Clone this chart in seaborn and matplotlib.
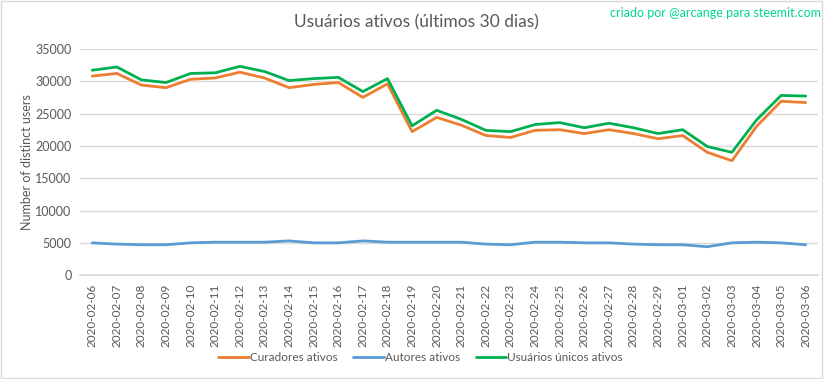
import matplotlib
matplotlib.use("Agg")
import matplotlib.pyplot as plt
import seaborn as sns
import pandas as pd
from matplotlib.patches import Rectangle

dates = ["2020-02-06", "2020-02-07", "2020-02-08", "2020-02-09", "2020-02-10",
         "2020-02-11", "2020-02-12", "2020-02-13", "2020-02-14", "2020-02-15",
         "2020-02-16", "2020-02-17", "2020-02-18", "2020-02-19", "2020-02-20",
         "2020-02-21", "2020-02-22", "2020-02-23", "2020-02-24", "2020-02-25",
         "2020-02-26", "2020-02-27", "2020-02-28", "2020-02-29", "2020-03-01",
         "2020-03-02", "2020-03-03", "2020-03-04", "2020-03-05", "2020-03-06"]

curadores = [30800, 31200, 29400, 29000, 30300, 30500, 31400, 30500, 29000, 29500,
             29800, 27500, 29600, 22200, 24400, 23200, 21600, 21300, 22400, 22500,
             21900, 22500, 21900, 21100, 21600, 19000, 17700, 23000, 26900, 26700]

autores = [5000, 4800, 4700, 4700, 5000, 5100, 5100, 5100, 5300, 5000,
           5000, 5300, 5100, 5100, 5100, 5100, 4800, 4700, 5100, 5100,
           5000, 5000, 4800, 4700, 4700, 4400, 5000, 5100, 5000, 4700]

unicos = [31700, 32200, 30200, 29800, 31200, 31300, 32300, 31500, 30100, 30400,
          30600, 28400, 30400, 23100, 25500, 24100, 22400, 22200, 23300, 23600,
          22800, 23500, 22800, 21900, 22500, 19900, 19000, 24000, 27800, 27700]

series_names = ["Curadores ativos", "Autores ativos", "Usuários únicos ativos"]
colors = ["#ED7D31", "#5B9BD5", "#00B050"]

sns.set_theme(style="white")
plt.rcParams['font.family'] = ['Lato', 'DejaVu Sans']

df = pd.DataFrame({
    "x": list(range(len(dates))) * 3,
    "value": curadores + autores + unicos,
    "serie": [series_names[0]] * len(dates) + [series_names[1]] * len(dates) + [series_names[2]] * len(dates),
})

fig = plt.figure(figsize=(8.33, 3.79), dpi=100)
ax = fig.add_axes([0.096, 0.274, 0.886, 0.597])

sns.lineplot(data=df, x="x", y="value", hue="serie", hue_order=series_names,
             palette=colors, linewidth=2.0, ax=ax, legend=False)

ax.set_xlim(-0.5, len(dates) - 0.5)
ax.set_ylim(0, 35000)
ax.set_yticks(range(0, 35001, 5000))
ax.set_yticklabels([str(v) for v in range(0, 35001, 5000)], fontsize=9, color="#595959")
ax.set_xticks(range(len(dates)))
ax.set_xticklabels(dates, rotation=90, fontsize=8.5, color="#595959")
ax.tick_params(axis="both", length=0, pad=6)
ax.yaxis.grid(True, color="#D9D9D9", linewidth=1)
ax.xaxis.grid(False)
for s in ax.spines.values():
    s.set_visible(False)
ax.spines["bottom"].set_visible(True)
ax.spines["bottom"].set_color("#D9D9D9")
ax.set_xlabel("")
ax.set_ylabel("Number of distinct users", fontsize=9, color="#595959", labelpad=2)

fig.text(0.5, 0.94, "Usuários ativos (últimos 30 dias)", ha="center", va="center",
         fontsize=12.5, color="#595959")
fig.text(0.986, 0.965, "criado por @arcange para steemit.com", ha="right", va="center",
         fontsize=9, color="#00D68F")

handles = [plt.Line2D([], [], color=c, linewidth=2.0) for c in colors]
fig.legend(handles, series_names, loc="center", bbox_to_anchor=(0.505, 0.057), ncol=3,
           frameon=False, fontsize=8.5, labelcolor="#595959", handlelength=2.6,
           handletextpad=0.1, columnspacing=1.3)

fig.patches.append(Rectangle((0.001, 0.003), 0.986, 0.994, transform=fig.transFigure,
                             fill=False, edgecolor="#D9D9D9", linewidth=1))

fig.savefig("out.png", dpi=100)
